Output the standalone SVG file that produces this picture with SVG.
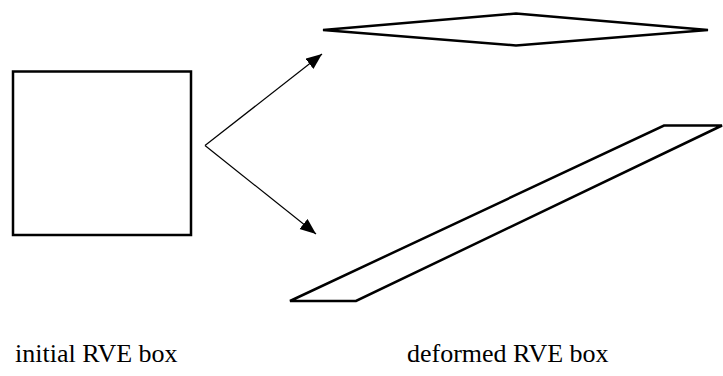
<svg xmlns="http://www.w3.org/2000/svg" width="723" height="376" viewBox="0 0 723 376">
<style>
.shape{fill:none;stroke:#000;stroke-width:2.5;stroke-linejoin:miter}
.conn{fill:none;stroke:#000;stroke-width:1.2}
.lbl{font-family:"Liberation Serif","Times New Roman",serif;font-size:26px;fill:#000}
</style>
<defs>
<marker id="arrow" markerUnits="userSpaceOnUse" markerWidth="18" markerHeight="14" refX="16" refY="6.5" orient="auto">
<path d="M0,0 L16,6.5 L0,13 z" fill="#000"/>
</marker>
</defs>
<rect width="723" height="376" fill="#fff"/>
<g id="initial-box">
<rect class="shape" x="13" y="71.5" width="178" height="163.5"/>
</g>
<g id="deformed-diamond">
<polygon class="shape" points="323,30 516,13.5 708,30 516,45.5"/>
</g>
<g id="deformed-sheared">
<polygon class="shape" points="664,125.5 722,125.5 356,301 290,301"/>
</g>
<g id="connectors">
<line class="conn" x1="205" y1="145.5" x2="322" y2="54" marker-end="url(#arrow)"/>
<line class="conn" x1="205" y1="145.5" x2="316" y2="234" marker-end="url(#arrow)"/>
</g>
<g id="labels">
<text class="lbl" x="15" y="362">initial RVE box</text>
<text class="lbl" x="407" y="362">deformed RVE box</text>
</g>
</svg>
